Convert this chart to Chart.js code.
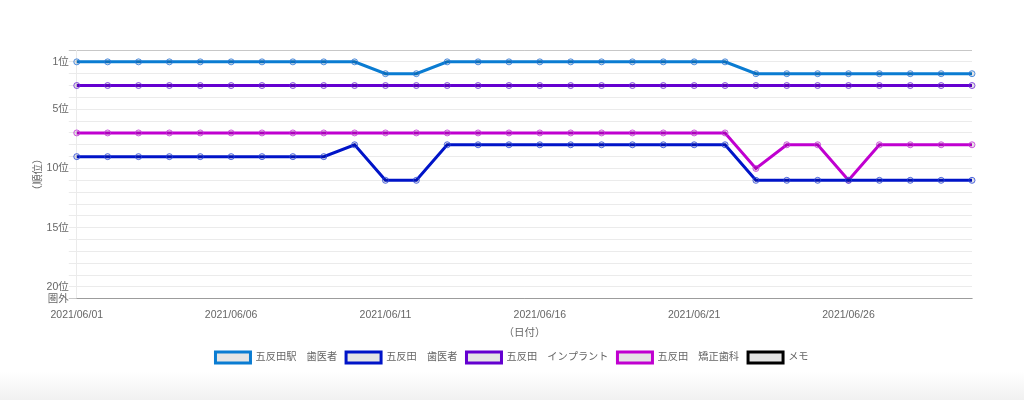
<!DOCTYPE html>
<html>
<head>
<meta charset="utf-8">
<script src="https://cdn.jsdelivr.net/npm/chart.js@4/dist/chart.umd.min.js"></script>
<style>
    html, body { margin: 0; padding: 0; }
    body {
        width: 1024px;
        height: 400px;
        background: linear-gradient(to bottom, #ffffff 0px, #ffffff 372px, #f1f1f1 400px);
    }
    .wrap { position: relative; width: 1024px; height: 377px; }
</style>
</head>
<body>
<div class="wrap"><canvas id="rank-chart"></canvas></div>
<script>
// 日付（2021/06/01〜2021/06/30）
const dias = [
    "2021/06/01", "2021/06/02", "2021/06/03", "2021/06/04", "2021/06/05",
    "2021/06/06", "2021/06/07", "2021/06/08", "2021/06/09", "2021/06/10",
    "2021/06/11", "2021/06/12", "2021/06/13", "2021/06/14", "2021/06/15",
    "2021/06/16", "2021/06/17", "2021/06/18", "2021/06/19", "2021/06/20",
    "2021/06/21", "2021/06/22", "2021/06/23", "2021/06/24", "2021/06/25",
    "2021/06/26", "2021/06/27", "2021/06/28", "2021/06/29", "2021/06/30"
];

// 順位データ
const ekiShika   = [1, 1, 1, 1, 1, 1, 1, 1, 1, 1, 2, 2, 1, 1, 1, 1, 1, 1, 1, 1, 1, 1, 2, 2, 2, 2, 2, 2, 2, 2];
const shika      = [9, 9, 9, 9, 9, 9, 9, 9, 9, 8, 11, 11, 8, 8, 8, 8, 8, 8, 8, 8, 8, 8, 11, 11, 11, 11, 11, 11, 11, 11];
const implant    = [3, 3, 3, 3, 3, 3, 3, 3, 3, 3, 3, 3, 3, 3, 3, 3, 3, 3, 3, 3, 3, 3, 3, 3, 3, 3, 3, 3, 3, 3];
const kyousei    = [7, 7, 7, 7, 7, 7, 7, 7, 7, 7, 7, 7, 7, 7, 7, 7, 7, 7, 7, 7, 7, 7, 10, 8, 8, 11, 8, 8, 8, 8];
const memo       = [];

// 軸ラベル
const rankLabels = { 1: "1位", 5: "5位", 10: "10位", 15: "15位", 20: "20位", 21: "圏外" };

const fontFamily = "'Liberation Sans', Arial, 'Noto Sans CJK JP', sans-serif";
const fontSize = 10.5;
const textColor = '#666';

function serie(label, data, color, pointColor) {
    return {
        label: label,
        data: data,
        borderColor: color,
        backgroundColor: 'rgba(0,0,0,0.1)',
        borderWidth: 3,
        tension: 0,
        fill: false,
        pointRadius: 3,
        pointBorderWidth: 1,
        pointBorderColor: pointColor,
        pointBackgroundColor: 'rgba(0,0,0,0.1)',
    };
}

document.addEventListener('DOMContentLoaded', function () {
    const ctx = document.getElementById('rank-chart').getContext('2d');

    new Chart(ctx, {
        type: 'line',
        data: {
            labels: dias,
            datasets: [
                serie("五反田駅　歯医者", ekiShika, '#0a7cd2', 'rgba(40,120,220,0.8)'),
                serie("五反田　歯医者", shika, '#0014c8', 'rgba(40,70,220,0.8)'),
                serie("五反田　インプラント", implant, '#6400d0', 'rgba(110,40,220,0.8)'),
                serie("五反田　矯正歯科", kyousei, '#c000d0', 'rgba(200,50,220,0.8)'),
                serie("メモ", memo, '#000000', '#000000'),
            ],
        },
        options: {
            responsive: true,
            maintainAspectRatio: false,
            animation: false,
            layout: {
                padding: { left: 30, right: 30, top: 50, bottom: 4 },
            },
            scales: {
                x: {
                    grid: { display: false, drawTicks: false },
                    border: { display: true, color: 'rgba(0,0,0,0.22)' },
                    ticks: {
                        color: textColor,
                        font: { family: fontFamily, size: fontSize },
                        autoSkip: false,
                        maxRotation: 0,
                        padding: 10,
                        callback: function (value, index) {
                            return index % 5 === 0 ? dias[index] : '';
                        },
                    },
                    title: {
                        display: true,
                        text: "（日付）",
                        color: textColor,
                        font: { family: fontFamily, size: fontSize },
                        padding: { top: -5, bottom: 4 },
                    },
                },
                y: {
                    reverse: true,
                    min: 0,
                    max: 21,
                    grid: {
                        tickLength: 8,
                        color: function (c) {
                            const v = c.tick ? c.tick.value : null;
                            return (v === 0 || v === 21) ? 'rgba(0,0,0,0.22)' : 'rgba(0,0,0,0.08)';
                        },
                    },
                    border: { display: true, color: 'rgba(0,0,0,0.08)' },
                    ticks: {
                        stepSize: 1,
                        autoSkip: false,
                        padding: 0,
                        color: textColor,
                        font: { family: fontFamily, size: fontSize },
                        callback: function (value) {
                            return rankLabels[value] || '';
                        },
                    },
                    title: {
                        display: true,
                        text: "（順位）",
                        color: textColor,
                        font: { family: fontFamily, size: fontSize },
                        padding: 2,
                    },
                },
                // 右側の余白用（表示なし）
                yRight: {
                    position: 'right',
                    grid: { display: false, drawTicks: false },
                    border: { display: false },
                    ticks: { display: false },
                    afterFit: function (scale) {
                        scale.width = 22;
                    },
                },
            },
            plugins: {
                legend: {
                    position: 'bottom',
                    labels: {
                        color: textColor,
                        font: { family: fontFamily, size: 10.2 },
                        boxWidth: 35,
                        boxHeight: 11,
                        padding: 9,
                    },
                },
                tooltip: { enabled: false },
            },
        },
    });
});
</script>
</body>
</html>
